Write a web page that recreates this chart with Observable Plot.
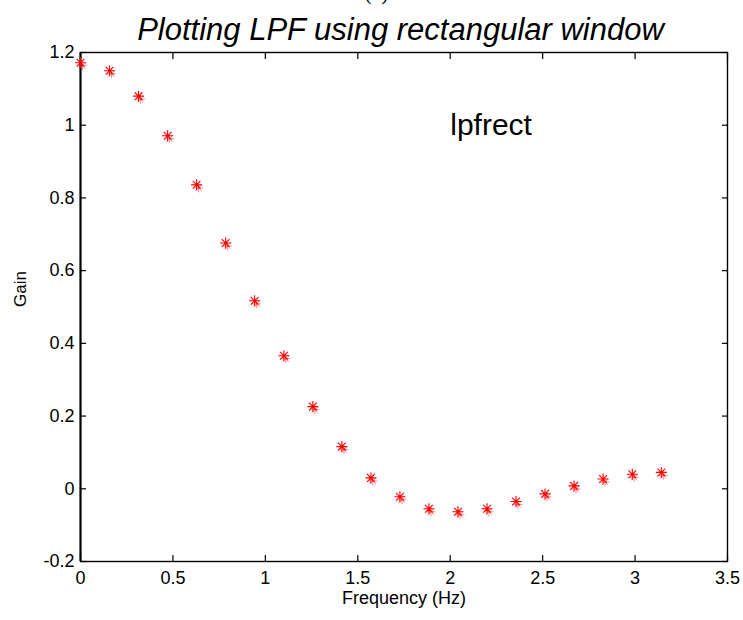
<!DOCTYPE html>
<html>
<head>
<meta charset="utf-8">
<script src="https://cdn.jsdelivr.net/npm/d3@7"></script>
<script src="https://cdn.jsdelivr.net/npm/@observablehq/plot@0.6"></script>
<style>
  html, body { margin: 0; padding: 0; background: white; }
  #wrap { position: relative; width: 743px; height: 620px; overflow: hidden; font-family: "Liberation Sans", Arial, sans-serif; }
  #tag { position: absolute; left: 0; width: 743px; top: -17px; text-align: center; font-family: "Liberation Serif", serif; font-size: 21px; line-height: 21px; color: #000; padding-left: 10px; box-sizing: border-box; }
  #title { position: relative; z-index: 2; height: 44px; padding-top: 14px; box-sizing: border-box; width: 743px; padding-left: 58px; text-align: center; font-style: italic; font-size: 31px; line-height: 31px; color: #000; white-space: nowrap; }
  #chart svg { display: block; background: transparent !important; overflow: visible; }
</style>
</head>
<body>
<div id="wrap">
  <div id="tag">(a)</div>
  <div id="title">Plotting LPF using rectangular window</div>
  <div id="chart"></div>
</div>
<script>
// Data
const frequency = [0, 0.157, 0.314, 0.471, 0.628, 0.785, 0.942, 1.100, 1.257, 1.414, 1.571,
                   1.728, 1.885, 2.042, 2.199, 2.356, 2.513, 2.670, 2.827, 2.985, 3.142];
const gain = [1.172, 1.150, 1.080, 0.971, 0.836, 0.676, 0.517, 0.366, 0.226, 0.116, 0.030,
              -0.022, -0.055, -0.063, -0.055, -0.035, -0.014, 0.008, 0.027, 0.040, 0.045];
const xTicks = [0, 0.5, 1, 1.5, 2, 2.5, 3, 3.5];
const yTicks = [-0.2, 0, 0.2, 0.4, 0.6, 0.8, 1, 1.2];
const xDomain = [0, 3.5];
const yDomain = [-0.2, 1.2];
const annotation = [{label: "lpfrect", x: 2.0, y: 1.0}];
const xLabel = "Frequency (Hz)";
const yLabel = "Gain";

const points = frequency.map((f, i) => ({f, g: gain[i]}));

// MATLAB-style '*' marker: + and x overlaid
const star = {
  draw(ctx, size) {
    const r = Math.sqrt(size / Math.PI);
    const d = r * Math.SQRT1_2;
    ctx.moveTo(-r, 0); ctx.lineTo(r, 0);
    ctx.moveTo(0, -r); ctx.lineTo(0, r);
    ctx.moveTo(-d, -d); ctx.lineTo(d, d);
    ctx.moveTo(-d, d); ctx.lineTo(d, -d);
  }
};

const fmt = d => String(d);
const chart = Plot.plot({
  width: 743,
  height: 576,
  marginTop: 8,
  marginBottom: 59,
  marginLeft: 80,
  marginRight: 16,
  style: {fontFamily: "Liberation Sans, Arial, sans-serif", background: "transparent", color: "black"},
  x: {domain: xDomain},
  y: {domain: yDomain},
  marks: [
    Plot.axisX(xTicks, {anchor: "bottom", tickSize: -6, tickPadding: 16, tickFormat: fmt, fontSize: 18, label: null, strokeWidth: 1.2}),
    Plot.axisX(xTicks, {anchor: "top", tickSize: -6, tickFormat: () => "", label: null, strokeWidth: 1.2}),
    Plot.axisY(yTicks, {anchor: "left", tickSize: -6, tickPadding: 12, tickFormat: fmt, fontSize: 18, label: null, strokeWidth: 1.2}),
    Plot.axisY(yTicks, {anchor: "right", tickSize: -6, tickFormat: () => "", label: null, strokeWidth: 1.2}),
    Plot.frame({stroke: "black", strokeWidth: 1.4}),
    Plot.ruleX([xDomain[0]], {stroke: "black", strokeWidth: 2}),
    Plot.dot(points, {x: "f", y: "g", symbol: star, r: 4.5, stroke: "#ff0000", strokeWidth: 1, strokeOpacity: 0.45, dx: 2, dy: 3}),
    Plot.dot(points, {x: "f", y: "g", symbol: star, r: 5.5, stroke: "#ff0000", strokeWidth: 1.1}),
    Plot.text(annotation, {x: "x", y: "y", text: "label", textAnchor: "start", lineAnchor: "middle", fontSize: 30, fill: "black"}),
    Plot.text([xLabel], {frameAnchor: "bottom", dy: 42, fontSize: 18, fill: "black"}),
    Plot.text([yLabel], {frameAnchor: "left", dx: -60, rotate: -90, fontSize: 17, fill: "black"})
  ]
});
document.getElementById("chart").appendChild(chart);
</script>
</body>
</html>
